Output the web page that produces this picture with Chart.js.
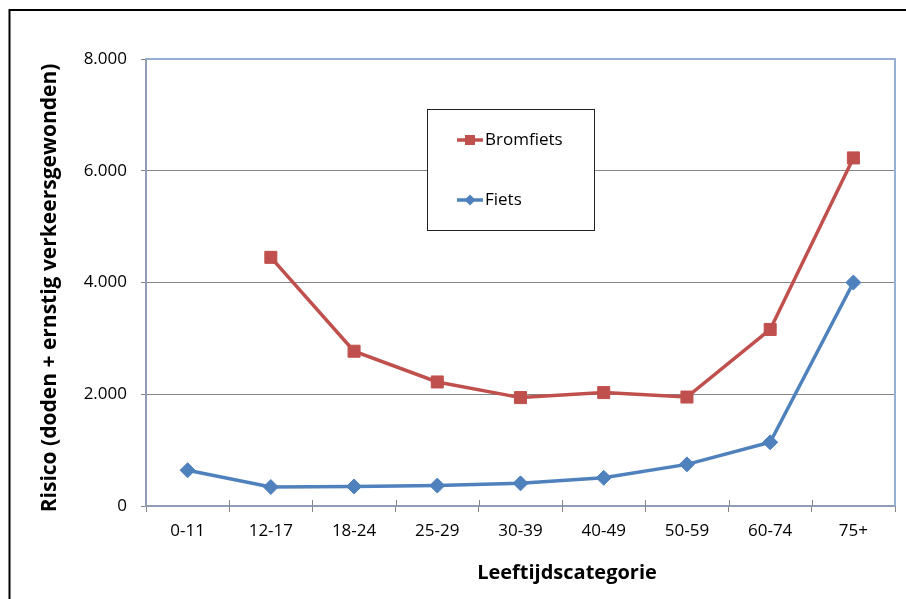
<!DOCTYPE html>
<html>
<head>
<meta charset="utf-8">
<script src="https://cdn.jsdelivr.net/npm/chart.js@4/dist/chart.umd.min.js"></script>
<style>
  html, body { margin: 0; padding: 0; background: #fff; }
  #wrap { width: 906px; height: 599px; position: relative; }
</style>
</head>
<body>
<div id="wrap"><canvas id="c" width="906" height="599"></canvas></div>
<script>
// Age groups on the x axis
const categories = ['0-11', '12-17', '18-24', '25-29', '30-39', '40-49', '50-59', '60-74', '75+'];
// Risk per series (deaths + seriously injured)
const bromfiets = [null, 4450, 2770, 2220, 1940, 2030, 1950, 3160, 6230];
const fiets = [640, 340, 350, 365, 405, 505, 745, 1140, 4000];
// Value axis
const yMin = 0;
const yMax = 8000;
const yStep = 2000;
const seriesNames = ['Bromfiets', 'Fiets'];
const xTitle = 'Leeftijdscategorie';
const yTitle = 'Risico (doden + ernstig verkeersgewonden)';

const RED = '#C0504D';
const BLUE = '#4F81BD';
const GRID = '#868686';
const AXIS = '#8E9DB3';
const FRAME_BLUE = '#95B0D3';
const FONT = '"Open Sans", "Liberation Sans", sans-serif';

function fmtThousands(v) {
  return String(v).replace(/\B(?=(\d{3})+(?!\d))/g, '.');
}

// Outer frame, plot border, crossing ticks, legend box and axis titles
const decorations = {
  id: 'decorations',
  beforeDatasetsDraw(chart) {
    const { ctx, chartArea: a, scales: { x } } = chart;
    ctx.save();
    // upper halves of the category tick marks
    ctx.strokeStyle = GRID;
    ctx.lineWidth = 1;
    for (let i = 1; i < categories.length; i++) {
      const px = Math.round((x.getPixelForTick(i - 1) + x.getPixelForTick(i)) / 2) + 0.5;
      ctx.beginPath();
      ctx.moveTo(px, a.bottom - 6);
      ctx.lineTo(px, a.bottom);
      ctx.stroke();
    }
    // top and right edges of the plot area
    ctx.strokeStyle = FRAME_BLUE;
    ctx.lineWidth = 2;
    ctx.beginPath();
    ctx.moveTo(a.left, a.top);
    ctx.lineTo(a.right, a.top);
    ctx.lineTo(a.right, a.bottom);
    ctx.stroke();
    ctx.restore();
  },
  afterDraw(chart) {
    const { ctx } = chart;
    ctx.save();
    // outer frame (top and left edges)
    ctx.strokeStyle = '#000';
    ctx.lineWidth = 2;
    ctx.beginPath();
    ctx.moveTo(9.5, 599);
    ctx.lineTo(9.5, 10);
    ctx.lineTo(906, 10);
    ctx.stroke();

    // legend box
    const lx = 427.5, ly = 109.5, lw = 167, lh = 121;
    ctx.fillStyle = '#fff';
    ctx.fillRect(lx, ly, lw, lh);
    ctx.strokeStyle = '#222';
    ctx.lineWidth = 1;
    ctx.strokeRect(lx, ly, lw, lh);

    const items = [
      { name: seriesNames[0], color: RED, y: 140, style: 'rect' },
      { name: seriesNames[1], color: BLUE, y: 200, style: 'diamond' }
    ];
    items.forEach(it => {
      ctx.strokeStyle = it.color;
      ctx.fillStyle = it.color;
      ctx.lineWidth = 3.5;
      ctx.beginPath();
      ctx.moveTo(457, it.y);
      ctx.lineTo(483, it.y);
      ctx.stroke();
      if (it.style === 'rect') {
        ctx.fillRect(465, it.y - 5, 10, 10);
      } else {
        ctx.beginPath();
        ctx.moveTo(470, it.y - 5.5);
        ctx.lineTo(475.5, it.y);
        ctx.lineTo(470, it.y + 5.5);
        ctx.lineTo(464.5, it.y);
        ctx.closePath();
        ctx.fill();
      }
      ctx.fillStyle = '#000';
      ctx.font = '17px ' + FONT;
      ctx.textAlign = 'left';
      ctx.textBaseline = 'middle';
      ctx.fillText(it.name, 485, it.y);
    });

    // axis titles
    ctx.fillStyle = '#000';
    ctx.textAlign = 'center';
    ctx.textBaseline = 'middle';
    ctx.font = 'bold 20px ' + FONT;
    ctx.fillText(xTitle, 567, 573);
    ctx.font = 'bold 21px ' + FONT;
    ctx.translate(50, 288);
    ctx.rotate(-Math.PI / 2);
    ctx.fillText(yTitle, 0, 0);
    ctx.restore();
  }
};

new Chart(document.getElementById('c'), {
  type: 'line',
  data: {
    labels: categories,
    datasets: [
      {
        label: seriesNames[0],
        data: bromfiets,
        borderColor: RED,
        backgroundColor: RED,
        borderWidth: 3.5,
        pointStyle: 'rect',
        pointRadius: 8.5,
        pointBorderWidth: 1,
        pointHoverRadius: 8.5,
        tension: 0,
        spanGaps: false
      },
      {
        label: seriesNames[1],
        data: fiets,
        borderColor: BLUE,
        backgroundColor: BLUE,
        borderWidth: 3.5,
        pointStyle: 'rectRot',
        pointRadius: 7.5,
        pointBorderWidth: 1,
        pointHoverRadius: 7.5,
        tension: 0
      }
    ]
  },
  options: {
    responsive: false,
    animation: false,
    events: [],
    layout: { padding: { top: 59, right: 11, left: 0, bottom: 0 } },
    plugins: {
      legend: { display: false },
      tooltip: { enabled: false },
      title: { display: false }
    },
    scales: {
      x: {
        offset: true,
        afterFit(s) { s.height = 93; },
        grid: {
          offset: true,
          drawOnChartArea: false,
          drawTicks: true,
          tickLength: 6,
          color: GRID,
          tickColor: GRID
        },
        border: { color: AXIS, width: 2 },
        ticks: {
          color: '#000',
          padding: 9,
          maxRotation: 0,
          autoSkip: false,
          font: { family: FONT, size: 17 }
        }
      },
      y: {
        min: yMin,
        max: yMax,
        afterFit(s) { s.width = 146; },
        grid: {
          drawTicks: true,
          tickLength: 5,
          tickColor: GRID,
          color: c => (c.tick && (c.tick.value === yMin || c.tick.value === yMax)) ? 'rgba(0,0,0,0)' : GRID,
          lineWidth: 1
        },
        border: { color: AXIS, width: 2 },
        ticks: {
          stepSize: yStep,
          color: '#000',
          padding: 14,
          font: { family: FONT, size: 17 },
          callback: v => fmtThousands(v)
        }
      }
    }
  },
  plugins: [decorations]
});
</script>
</body>
</html>
